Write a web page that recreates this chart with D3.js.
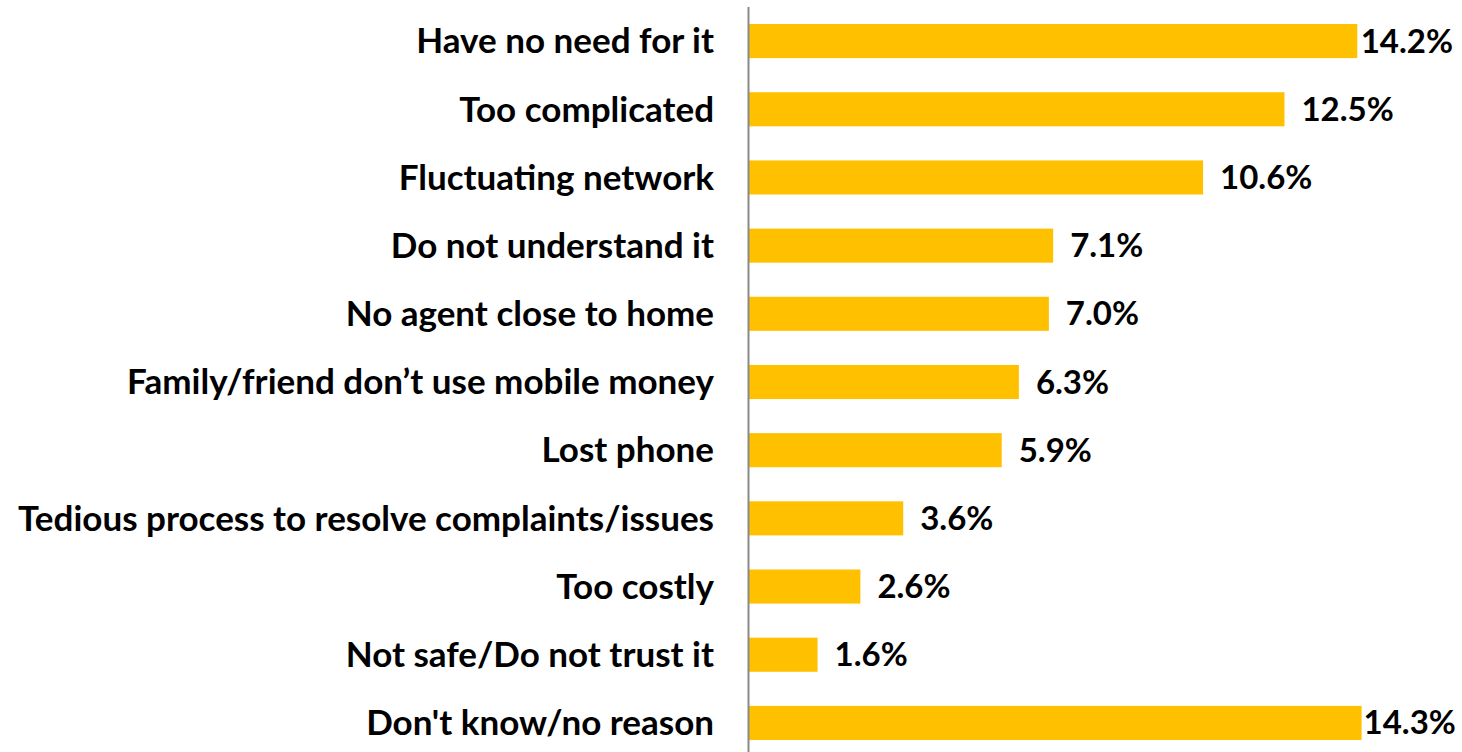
<!DOCTYPE html>
<html>
<head>
<meta charset="utf-8">
<script src="https://cdn.jsdelivr.net/npm/d3@7"></script>
<style>
  html, body { margin: 0; padding: 0; background: #fff; }
  svg { display: block; }
  text { font-family: Lato, "Open Sans", sans-serif; font-weight: 700; fill: #000; }
</style>
</head>
<body>
<svg id="chart" width="1462" height="752"></svg>
<script>
// Reasons for not using mobile money (share of respondents, %)
const categories = [
  "Have no need for it",
  "Too complicated",
  "Fluctuating network",
  "Do not understand it",
  "No agent close to home",
  "Family/friend don\u2019t use mobile money",
  "Lost phone",
  "Tedious process to resolve complaints/issues",
  "Too costly",
  "Not safe/Do not trust it",
  "Don't know/no reason"
];
const values = [14.2, 12.5, 10.6, 7.1, 7.0, 6.3, 5.9, 3.6, 2.6, 1.6, 14.3];
const valueLabels = values.map(v => v.toFixed(1) + "%");

const width = 1462, height = 752;
const axisX = 749;
const rightEdge = 1453;
const svg = d3.select("#chart");

const x = d3.scaleLinear().domain([0, 14.2]).range([axisX, 1357.3]);
const y = d3.scaleBand().domain(categories).range([7, 757]).paddingInner(0.5).paddingOuter(0.25);

// bars
svg.selectAll("rect.bar").data(values).join("rect")
  .attr("class", "bar")
  .attr("x", x(0))
  .attr("y", (d, i) => y(categories[i]))
  .attr("width", d => x(d) - x(0))
  .attr("height", y.bandwidth())
  .attr("fill", "#FFC000");

// vertical category axis
svg.append("line")
  .attr("x1", axisX - 0.5).attr("x2", axisX - 0.5)
  .attr("y1", 7).attr("y2", height)
  .attr("stroke", "#898989").attr("stroke-width", 2);

// category labels
svg.selectAll("text.cat").data(categories).join("text")
  .attr("class", "cat")
  .attr("x", 714)
  .attr("y", d => y(d) + y.bandwidth() / 2)
  .attr("dy", "0.35em")
  .attr("text-anchor", "end")
  .style("font-size", "35px")
  .text(d => d);

// value labels, pulled back inside the plot when they would run past its edge
const vals = svg.selectAll("text.val").data(values).join("text")
  .attr("class", "val")
  .attr("x", d => x(d) + 17)
  .attr("y", (d, i) => y(categories[i]) + y.bandwidth() / 2)
  .attr("dy", "0.35em")
  .style("font-size", "33px")
  .text((d, i) => valueLabels[i]);

vals.each(function(d) {
  const w = this.getComputedTextLength();
  const start = Math.min(x(d) + 17, rightEdge - w);
  d3.select(this).attr("x", Math.max(start, x(d) + 2));
});
</script>
</body>
</html>
